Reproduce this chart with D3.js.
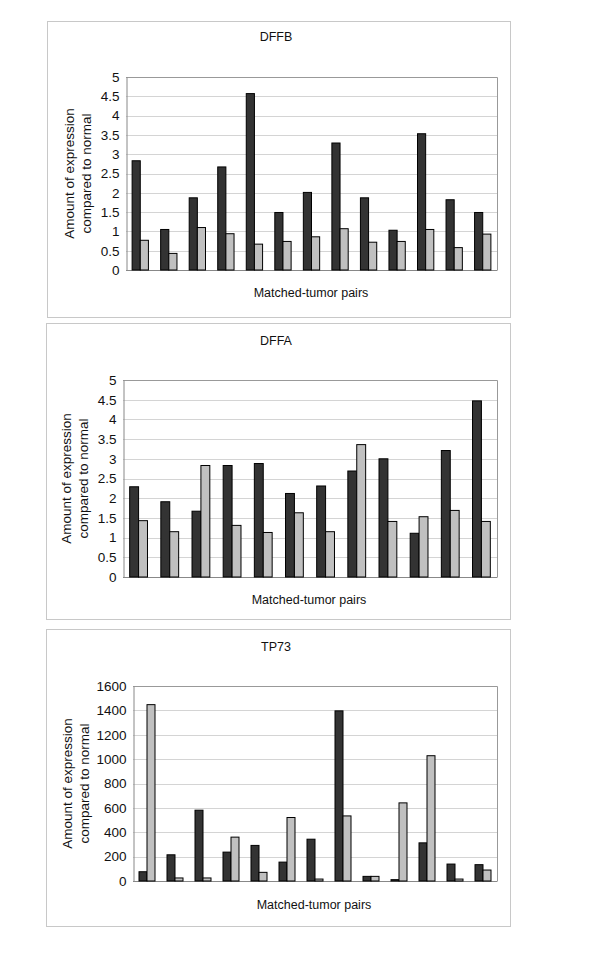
<!DOCTYPE html>
<html><head><meta charset="utf-8">
<script src="https://cdn.jsdelivr.net/npm/d3@7"></script>
<style>body{margin:0;background:#fff}svg{display:block}text{font-family:"Liberation Sans",Arial,sans-serif;fill:#111}</style>
</head><body><div id="c"></div>
<script>
// Data
const titles = ["DFFB", "DFFA", "TP73"];
const dffbTumor  = [2.83,1.05,1.87,2.67,4.57,1.49,2.01,3.29,1.87,1.03,3.53,1.82,1.49];
const dffbNormal = [0.77,0.43,1.10,0.94,0.67,0.74,0.86,1.07,0.72,0.74,1.05,0.58,0.93];
const dffaTumor  = [2.29,1.91,1.67,2.83,2.88,2.12,2.31,2.69,3.00,1.11,3.21,4.47];
const dffaNormal = [1.43,1.15,2.83,1.31,1.13,1.63,1.15,3.36,1.41,1.53,1.69,1.41];
const tp73Tumor  = [76,215,581,237,292,155,343,1396,38,11,313,139,134];
const tp73Normal = [1447,25,25,360,71,521,16,534,38,641,1028,16,90];
const ticksSmall = [0,0.5,1,1.5,2,2.5,3,3.5,4,4.5,5];
const ticksLarge = [0,200,400,600,800,1000,1200,1400,1600];
const xLabel = "Matched-tumor pairs";
const yLabel = ["Amount of expression", "compared to normal"];

const panels = [
  {title: titles[0], a: dffbTumor, b: dffbNormal, ticks: ticksSmall,
   box:[47,21,510,317], plot:[126,77,497,270], titleY:37, xlabY:293, xlabX:311, yl:[69,86]},
  {title: titles[1], a: dffaTumor, b: dffaNormal, ticks: ticksSmall,
   box:[46,323,510,619], plot:[123,380,497,577], titleY:341, xlabY:600, xlabX:309, yl:[66,83]},
  {title: titles[2], a: tp73Tumor, b: tp73Normal, ticks: ticksLarge,
   box:[46,629,510,926], plot:[133,686,497,881], titleY:647, xlabY:905, xlabX:314, yl:[67,84]}
];

const svg = d3.select("#c").append("svg").attr("width",600).attr("height",955);

panels.forEach(p => {
  const g = svg.append("g");
  g.append("rect").attr("x",p.box[0]+0.5).attr("y",p.box[1]+0.5)
    .attr("width",p.box[2]-p.box[0]).attr("height",p.box[3]-p.box[1])
    .attr("fill","#fff").attr("stroke","#c8c8c8");
  const [x0,y0,x1,y1] = p.plot;
  const n = p.a.length;
  const x = d3.scaleBand().domain(d3.range(n)).range([x0,x1]);
  const y = d3.scaleLinear().domain([0, p.ticks[p.ticks.length-1]]).range([y1,y0]);
  // gridlines
  g.selectAll(".grid").data(p.ticks.slice(1,-1)).enter().append("line")
    .attr("x1",x0).attr("x2",x1).attr("y1",d=>Math.round(y(d))+0.5).attr("y2",d=>Math.round(y(d))+0.5)
    .attr("stroke","#d4d4d4");
  // plot frame top/right
  g.append("path").attr("d",`M${x0},${y0+0.5}H${x1+0.5}V${y1}`).attr("fill","none").attr("stroke","#999");
  // y axis
  const yAxis = d3.axisLeft(y).tickValues(p.ticks).tickSize(0).tickPadding(7).tickFormat(d=>String(d));
  const ya = g.append("g").attr("transform",`translate(${x0+0.5},0)`).call(yAxis);
  ya.select(".domain").attr("stroke","#888");
  ya.selectAll("text").style("font-size","13.5px").style("font-family","Liberation Sans, Arial, sans-serif").attr("fill","#111");
  g.append("line").attr("x1",x0).attr("x2",x1+0.5).attr("y1",y1+0.5).attr("y2",y1+0.5).attr("stroke","#888");
  // bars
  const bw = x.bandwidth()/3.5;
  const off = (x.bandwidth()-2*bw)/2;
  g.selectAll(".ba").data(p.a).enter().append("rect")
    .attr("x",(d,i)=>x(i)+off).attr("y",d=>y(d)).attr("width",bw).attr("height",d=>y1-y(d))
    .attr("fill","#333333").attr("stroke","#000").attr("stroke-width",1);
  g.selectAll(".bb").data(p.b).enter().append("rect")
    .attr("x",(d,i)=>x(i)+off+bw).attr("y",d=>y(d)).attr("width",bw).attr("height",d=>y1-y(d))
    .attr("fill","#c0c0c0").attr("stroke","#000").attr("stroke-width",1);
  // texts
  g.append("text").attr("x",276).attr("y",p.titleY).attr("text-anchor","middle").attr("dominant-baseline","central")
    .style("font-size","12.5px").text(p.title);
  g.append("text").attr("x",p.xlabX).attr("y",p.xlabY).attr("text-anchor","middle").attr("dominant-baseline","central")
    .style("font-size","12.5px").text(xLabel);
  const cy = (y0+y1)/2;
  yLabel.forEach((t,i)=>{
    g.append("text").attr("transform",`translate(${p.yl[i]},${cy}) rotate(-90)`)
      .attr("text-anchor","middle").attr("dominant-baseline","central").style("font-size","13.5px").text(t);
  });
});
</script></body></html>
